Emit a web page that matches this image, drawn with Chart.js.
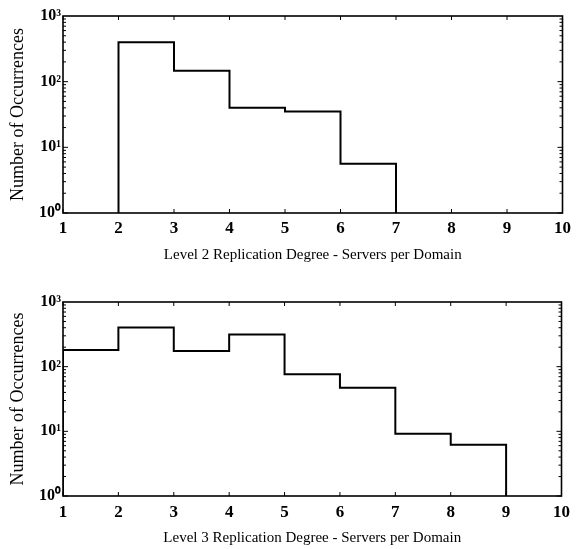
<!DOCTYPE html>
<html>
<head>
<meta charset="utf-8">
<script src="https://cdn.jsdelivr.net/npm/chart.js@4/dist/chart.umd.min.js"></script>
<style>
  html, body { margin: 0; padding: 0; background: #fff; }
  canvas { display: block; }
</style>
</head>
<body>
<canvas id="level2Chart" width="576" height="270"></canvas>
<canvas id="level3Chart" width="576" height="279"></canvas>
<script>
// Bin edges (servers per domain) and counts
const level2Edges = [2, 3, 4, 5, 6, 7];
const level2Counts = [400, 146, 40, 35, 5.6];

const level3Edges = [1, 2, 3, 4, 5, 6, 7, 8, 9];
const level3Counts = [181, 405, 175, 315, 76, 47, 9.2, 6.2];

const xTicks = [1, 2, 3, 4, 5, 6, 7, 8, 9, 10];
const yTicks = [1, 10, 100, 1000];
const yTickLabels = ['10\u2070', '10\u00b9', '10\u00b2', '10\u00b3'];

const SERIF = "'Liberation Serif', 'Times New Roman', serif";

// turn edges + counts into points for a stepped outline starting/ending on the axis
function histPoints(edges, counts) {
  const pts = [{ x: edges[0], y: 1 }];
  counts.forEach((c, i) => pts.push({ x: edges[i + 1], y: c }));
  pts.push({ x: edges[edges.length - 1], y: 1 });
  return pts;
}

// box around the plot plus inward ticks on all four sides
const frameTicks = {
  id: 'frameTicks',
  afterDraw(chart) {
    const { ctx, chartArea: a, scales: { x, y } } = chart;
    ctx.save();
    ctx.strokeStyle = '#000';
    ctx.lineWidth = 1.6;
    ctx.strokeRect(a.left, a.top, a.right - a.left, a.bottom - a.top);
    ctx.lineWidth = 1;
    ctx.beginPath();
    xTicks.forEach(v => {
      const px = x.getPixelForValue(v);
      ctx.moveTo(px, a.bottom); ctx.lineTo(px, a.bottom - 4);
      ctx.moveTo(px, a.top); ctx.lineTo(px, a.top + 4);
    });
    [1, 10, 100].forEach(d => {
      for (let m = 1; m <= 9; m++) {
        const py = y.getPixelForValue(d * m);
        const len = m === 1 ? 5 : 3;
        ctx.moveTo(a.left, py); ctx.lineTo(a.left + len, py);
        ctx.moveTo(a.right, py); ctx.lineTo(a.right - len, py);
      }
    });
    ctx.stroke();
    ctx.restore();
  }
};

function makeChart(id, edges, counts, xTitle, opts) {
  return new Chart(document.getElementById(id), {
    type: 'line',
    data: {
      datasets: [{
        data: histPoints(edges, counts),
        stepped: 'after',
        borderColor: '#000',
        borderWidth: 2,
        pointRadius: 0,
        fill: false
      }]
    },
    options: {
      responsive: false,
      animation: false,
      layout: { padding: { top: opts.top, right: 11, left: 0, bottom: 0 } },
      plugins: { legend: { display: false }, tooltip: { enabled: false } },
      scales: {
        x: {
          type: 'linear',
          min: 1,
          max: 10,
          afterBuildTicks: s => { s.ticks = xTicks.map(v => ({ value: v })); },
          afterFit: s => { s.height = opts.xHeight; },
          grid: { display: false, drawTicks: false },
          border: { display: false },
          ticks: {
            color: '#000',
            padding: opts.tickPad,
            maxRotation: 0,
            font: { family: SERIF, size: 17, weight: 'bold' }
          },
          title: {
            display: true,
            text: xTitle,
            color: '#000',
            font: { family: SERIF, size: 15 },
            padding: { top: 0, bottom: opts.titlePad }
          }
        },
        y: {
          type: 'logarithmic',
          min: 1,
          max: 1000,
          afterBuildTicks: s => { s.ticks = yTicks.map(v => ({ value: v })); },
          afterFit: s => { s.width = 63; },
          grid: { display: false, drawTicks: false },
          border: { display: false },
          ticks: {
            color: '#000',
            padding: 2,
            font: { family: SERIF, size: 16, weight: 'bold' },
            callback: v => yTickLabels[yTicks.indexOf(v)]
          },
          title: {
            display: true,
            text: 'Number of Occurrences',
            color: '#000',
            font: { family: SERIF, size: 18 },
            padding: { top: 7, bottom: 0 }
          }
        }
      }
    },
    plugins: [frameTicks]
  });
}

makeChart('level2Chart', level2Edges, level2Counts,
  'Level 2 Replication Degree - Servers per Domain',
  { top: 16, xHeight: 57, tickPad: 5, titlePad: 6 });

makeChart('level3Chart', level3Edges, level3Counts,
  'Level 3 Replication Degree - Servers per Domain',
  { top: 32, xHeight: 53, tickPad: 6, titlePad: 2 });
</script>
</body>
</html>
